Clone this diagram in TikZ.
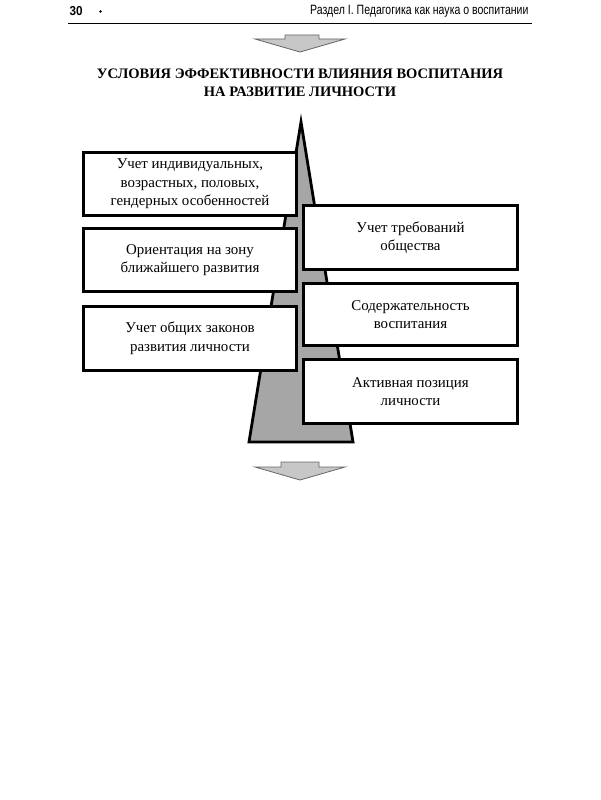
\documentclass[tikz,border=0pt]{standalone}
\usepackage{fontspec}
\setmainfont{Liberation Serif}
\newfontfamily\hdrfont[FakeStretch=0.78]{Liberation Sans}
\newfontfamily\pgfont[FakeStretch=0.9]{Liberation Sans}
\begin{document}
\begin{tikzpicture}[x=1pt,y=-1pt,
  box/.style={draw=black,line width=3pt,fill=white,align=center,font=\fontsize{14.9}{18.5}\selectfont,inner sep=0pt},
  arr/.style={draw=black!60,fill=black!22,line width=0.8pt},
  spike/.style={draw=black,fill=black!35,line width=2.8pt,line join=miter}]
\useasboundingbox[fill=white] (0,0) rectangle (600,800);
% header
\node[anchor=west,font=\pgfont\bfseries\fontsize{13}{13}\selectfont] (pg) at (66,11) {30};
\fill (100.5,11.5) circle (1.3pt);
\node[anchor=east,font=\hdrfont\fontsize{13.5}{13.5}\selectfont] (hdr) at (532,11) {Раздел I. Педагогика как наука о воспитании};
\coordinate (r1) at (68,23); \coordinate (r2) at (532,23);
\draw[line width=0.9pt] (r1) -- (r2);
% top arrow
\draw[arr] (285,35) -- (319,35) -- (319,39) -- (345,39) -- (300,52) -- (255,39) -- (285,39) -- cycle;
% title
\node[font=\bfseries\fontsize{14.5}{18}\selectfont,align=center] (title) at (300,83) {УСЛОВИЯ ЭФФЕКТИВНОСТИ ВЛИЯНИЯ ВОСПИТАНИЯ\\НА РАЗВИТИЕ ЛИЧНОСТИ};
% spike
\coordinate (tip) at (301,122);
\coordinate (bl) at (249,442);
\coordinate (br) at (353,442);
\draw[spike] (tip) -- (br) -- (bl) -- cycle;
% boxes
\node[box,minimum width=213pt,minimum height=63pt] (L1) at (190,184) {Учет индивидуальных,\\возрастных, половых,\\гендерных особенностей};
\node[box,minimum width=213pt,minimum height=63pt] (L2) at (190,260) {Ориентация на зону\\ближайшего развития};
\node[box,minimum width=213pt,minimum height=64pt] (L3) at (190,338) {Учет общих законов\\развития личности};
\node[box,minimum width=214pt,minimum height=64pt] (R1) at (410.5,237.5) {Учет требований\\общества};
\node[box,minimum width=214pt,minimum height=62pt] (R2) at (410.5,314.5) {Содержательность\\воспитания};
\node[box,minimum width=214pt,minimum height=64pt] (R3) at (410.5,391.5) {Активная позиция\\личности};
% bottom arrow
\draw[arr] (281,462) -- (319,462) -- (319,467) -- (345,467) -- (300,480) -- (255,467) -- (281,467) -- cycle;
\end{tikzpicture}
\end{document}
